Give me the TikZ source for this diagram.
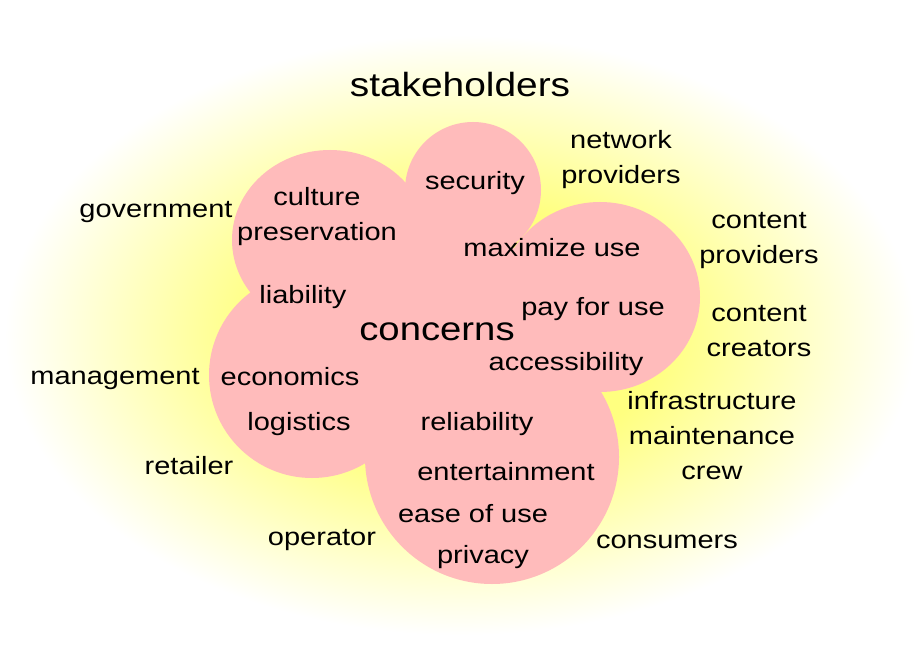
\documentclass[tikz,border=0pt]{standalone}
\usepackage{fontspec}
\setmainfont{Liberation Sans}[FakeStretch=1.16]
\usepackage{tikz}
\usepackage{xcolor}
\definecolor{glowyellow}{RGB}{255,255,128}
\definecolor{blobpink}{RGB}{255,187,187}
\pgfdeclareradialshading{glow}{\pgfpoint{0bp}{0bp}}{color(0bp)=(glowyellow); color(11bp)=(glowyellow); color(25bp)=(white); color(50bp)=(white)}

\begin{document}
\begin{tikzpicture}[x=1pt,y=-1pt,
  word/.style={font=\fontsize{25}{35}\selectfont,anchor=base,inner sep=0pt},
  words/.style={font=\fontsize{25}{35}\selectfont,align=center,inner sep=0pt}]
\useasboundingbox (0,0) rectangle (920,660);
\shade[shading=glow](460,335) ellipse [x radius=455, y radius=300];
\foreach \cx/\cy/\rx/\ry in {330/240/98/90,473/190/68/68,600/297/100/95,492/457/127/127,312/375/103/103,440/330/110/110}
  \fill[blobpink] (\cx,\cy) ellipse [x radius=\rx, y radius=\ry];
\node[word,font=\fontsize{33.5}{40}\selectfont] (stake) at (460,97) {stakeholders};
\node[word,font=\fontsize{33}{40}\selectfont] (conc) at (437,340) {concerns};
\foreach \n/\x/\y/\t in {gov/156/218/government,man/115/384/management,ret/189/474/retailer,
    op/322/545/operator,cons/667/548/consumers,sec/475/190/security,max/552/257/maximize use,
    lia/303/303/liability,pay/593/315/pay for use,acc/566/370/accessibility,eco/290/385/economics,
    log/299/430/logistics,rel/477/430/reliability,ent/506/480/entertainment,
    ease/473/522/ease of use,priv/483/563/privacy}
  \node[word] (\n) at (\x,\y) {\t};
\node[words] (cult) at (317,217) {culture\\preservation};
\node[words] (net) at (621,160) {network\\providers};
\node[words] (cprov) at (759,241) {content\\providers};
\node[words] (ccre) at (759,331) {content\\creators};
\node[words] (infra) at (712,436) {infrastructure\\maintenance\\crew};
\end{tikzpicture}
\end{document}
